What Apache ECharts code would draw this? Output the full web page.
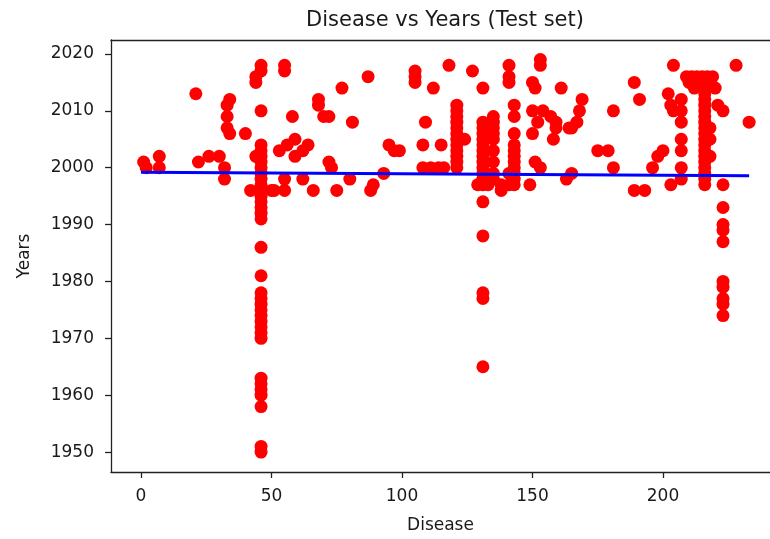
<!DOCTYPE html>
<html>
<head>
<meta charset="utf-8">
<title>Disease vs Years (Test set)</title>
<script src="https://cdn.jsdelivr.net/npm/echarts@6/dist/echarts.min.js"></script>
<style>
  html, body { margin: 0; padding: 0; background: #fff; }
  #chart { width: 770px; height: 539px; }
</style>
</head>
<body>
<div id="chart"></div>
<script>
// test set points (x = disease code, y = year)
var disease = [
    1, 2, 7, 7, 21, 22, 26, 30, 32, 32,
    34, 33, 33, 33, 34, 40,
    46, 46, 44, 44, 44, 42,
    46, 46, 46, 46, 46, 46, 46, 46, 46, 46, 46, 46, 46, 46, 46, 46, 46,
    46, 46, 46, 46, 46, 46, 46, 46, 46, 46, 46, 46, 46, 46, 46, 46,
    50, 51, 55, 55, 55, 55, 53, 56, 59, 62, 64, 58, 59, 62,
    68, 68, 70, 72, 66,
    77, 72, 73, 75, 80, 81, 87, 88, 89, 93, 95, 97, 99,
    105, 105, 105, 108, 108, 109, 112, 111, 114, 116, 115, 118,
    121, 121, 121, 121, 121, 121, 121, 121, 121, 121, 121, 121,
    124, 127, 131,
    131, 131, 131, 131, 131, 131, 131, 131, 131, 131, 131, 131, 131, 131, 131, 131, 131,
    129, 133,
    135, 135, 135, 135, 135, 135, 135, 135, 135,
    138, 138, 141, 141, 141, 141, 141,
    143, 143, 143, 143, 143, 143, 143, 143, 143, 143, 143,
    153, 153, 150, 151,
    150, 154, 157, 159, 159, 158, 152, 150,
    151, 153, 149, 161,
    164, 165, 167, 168, 169, 163, 165,
    175, 179, 181, 181,
    189, 191, 189, 193, 196, 198, 200,
    202, 203, 204, 207, 207, 207, 204,
    207, 207, 207, 207, 203,
    209, 211, 213, 215, 217, 219, 210, 214, 218, 220, 212, 216,
    216, 216, 216, 216, 216, 216, 216, 216, 216, 216, 216, 216, 216, 216, 216, 216, 216,
    218, 218, 218, 221, 223, 228, 233,
    223, 223, 223, 223, 223, 223, 223, 223, 223, 223
];
var years = [
    2001, 2000, 2002, 2000, 2013, 2001, 2002, 2002, 2000, 1998,
    2012, 2011, 2009, 2007, 2006, 2006,
    2018, 2017, 2016, 2015, 2002, 1996,
    2010, 2004, 2003, 2002, 2001, 2000, 1999, 1998, 1997, 1996, 1995, 1994, 1993, 1992, 1991, 1986, 1981,
    1978, 1977, 1976, 1975, 1974, 1973, 1972, 1971, 1970, 1963, 1962, 1961, 1960, 1958, 1951, 1950,
    1996, 1996, 2018, 2017, 1998, 1996, 2003, 2004, 2002, 2003, 2004, 2009, 2005, 1998,
    2012, 2011, 2009, 2009, 1996,
    2014, 2001, 2000, 1996, 1998, 2008, 2016, 1996, 1997, 1999, 2004, 2003, 2003,
    2017, 2016, 2015, 2000, 2004, 2008, 2014, 2000, 2000, 2000, 2004, 2018,
    2011, 2010, 2009, 2008, 2007, 2006, 2005, 2004, 2003, 2002, 2001, 2000,
    2005, 2017, 2014,
    2008, 2007, 2006, 2005, 2004, 2003, 2002, 2001, 2000, 1999, 1998, 1997, 1994, 1988, 1978, 1977, 1965,
    1997, 1997,
    2009, 2008, 2007, 2006, 2005, 2003, 2001, 1999, 1998,
    1996, 1997, 2018, 2016, 2015, 1999, 1997,
    2011, 2009, 2006, 2004, 2003, 2002, 2001, 2000, 1999, 1998, 1997,
    2019, 2018, 2015, 2014,
    2010, 2010, 2009, 2008, 2007, 2005, 2008, 2006,
    2001, 2000, 1997, 2014,
    2007, 2007, 2008, 2010, 2012, 1998, 1999,
    2003, 2003, 2010, 2000,
    2015, 2012, 1996, 1996, 2000, 2002, 2003,
    2013, 2011, 2010, 2012, 2010, 2008, 2018,
    2005, 2003, 2000, 1998, 1997,
    2016, 2016, 2016, 2016, 2016, 2016, 2015, 2015, 2015, 2014, 2014, 2014,
    2013, 2012, 2011, 2010, 2009, 2008, 2007, 2006, 2005, 2004, 2003, 2002, 2001, 2000, 1999, 1998, 1997,
    2007, 2005, 2002, 2011, 2010, 2018, 2008,
    1997, 1993, 1990, 1989, 1987, 1980, 1979, 1977, 1976, 1974
];

// fitted regression line (end points)
var fitX = [0, 233];
var fitY = [1999.2, 1998.6];

var xTicks = [0, 50, 100, 150, 200];
var yTicks = [1950, 1960, 1970, 1980, 1990, 2000, 2010, 2020];

var points = [];
for (var i = 0; i < disease.length; i++) {
    points.push([disease[i], years[i]]);
}
var fitLine = [];
for (var j = 0; j < fitX.length; j++) {
    fitLine.push([fitX[j], fitY[j]]);
}

var font = 'DejaVu Sans';
var ink = '#1a1a1a';
var spine = { color: '#222', width: 1.3 };

// the original figure is cut on the right, so the plot runs to the edge
// of the picture and the right spine is never drawn
var xMin = -11.5, xMax = 241;

var myChart = echarts.init(document.getElementById('chart'));
var option = {
    animation: false,
    backgroundColor: '#fff',
    textStyle: { fontFamily: font },
    title: {
        text: 'Disease vs Years (Test set)',
        left: 445,
        top: 10,
        padding: 0,
        textAlign: 'center',
        textStyle: { fontFamily: font, fontSize: 21, fontWeight: 'normal', color: ink }
    },
    grid: {
        left: 111,
        right: 0,
        top: 40,
        bottom: 63,
        containLabel: false,
        show: false
    },
    xAxis: [
        {
            type: 'value',
            position: 'bottom',
            min: xMin,
            max: xMax,
            name: 'Disease',
            nameLocation: 'middle',
            nameGap: 45,
            nameTextStyle: { fontFamily: font, fontSize: 17, color: ink },
            splitLine: { show: false },
            axisLine: { show: true, onZero: false, lineStyle: spine },
            axisTick: { show: true, inside: false, length: 6, customValues: xTicks, lineStyle: spine },
            axisLabel: { customValues: xTicks, margin: 16, fontFamily: font, fontSize: 17, color: ink }
        },
        {
            // top spine only
            type: 'value',
            position: 'top',
            min: xMin,
            max: xMax,
            splitLine: { show: false },
            axisLine: { show: true, onZero: false, lineStyle: spine },
            axisTick: { show: false },
            axisLabel: { show: false }
        }
    ],
    yAxis: {
        type: 'value',
        min: 1946.5,
        max: 2022.45,
        name: 'Years',
        nameLocation: 'middle',
        nameGap: 78,
        nameTextStyle: { fontFamily: font, fontSize: 17, color: ink },
        splitLine: { show: false },
        axisLine: { show: true, onZero: false, lineStyle: spine },
        axisTick: { show: true, inside: false, length: 6, customValues: yTicks, lineStyle: spine },
        axisLabel: {
            customValues: yTicks,
            margin: 17,
            fontFamily: font,
            fontSize: 17,
            color: ink,
            formatter: function (v) { return String(v); }
        }
    },
    series: [
        {
            name: 'Test set',
            type: 'scatter',
            symbol: 'circle',
            symbolSize: 13,
            itemStyle: { color: '#ff0000', opacity: 1 },
            data: points
        },
        {
            name: 'Fit',
            type: 'line',
            z: 5,
            symbol: 'none',
            lineStyle: { color: '#0000ff', width: 3 },
            data: fitLine
        }
    ]
};

myChart.setOption(option);
</script>
</body>
</html>
